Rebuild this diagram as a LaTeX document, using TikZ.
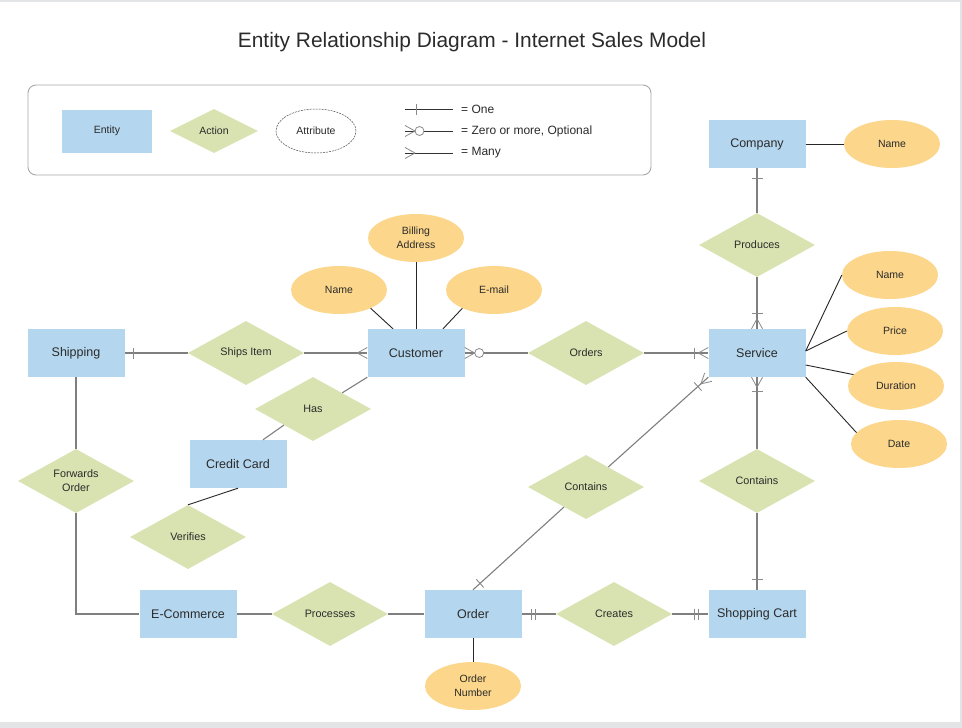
\documentclass[tikz,border=0pt]{standalone}
\usepackage{fontspec}
\setmainfont{Liberation Sans}
\usetikzlibrary{shapes.geometric,decorations.markings,calc}
\definecolor{entblue}{HTML}{B4D6EE}
\definecolor{actgreen}{HTML}{D9E2B1}
\definecolor{attorange}{HTML}{FCD68A}
\definecolor{txt}{HTML}{2B2B2B}
\definecolor{relgray}{HTML}{7F7F7F}
\definecolor{markgray}{HTML}{8A8A8A}
\definecolor{pagegray}{HTML}{E3E4E6}
\definecolor{boxgray}{HTML}{A8A8A8}
\begin{document}
\begin{tikzpicture}[x=1pt,y=-1pt,
 entity/.style={rectangle,fill=entblue,minimum width=97pt,minimum height=48pt,inner sep=0pt,text=txt,font=\fontsize{12.5}{15}\selectfont},
 action/.style={diamond,fill=actgreen,minimum width=116pt,minimum height=64pt,inner sep=0pt,aspect=1.8,text=txt,font=\fontsize{10.8}{14}\selectfont,align=center},
 attrib/.style={ellipse,fill=attorange,minimum width=96pt,minimum height=48pt,inner sep=0pt,text=txt,font=\fontsize{10.5}{14}\selectfont,align=center},
 rel/.style={draw=relgray,line width=1.1pt},
 attl/.style={draw=black!85,line width=0.9pt},
 legtext/.style={anchor=west,inner sep=0pt,text=txt,font=\fontsize{12}{14}\selectfont},
 onemark/.style={postaction={decorate,decoration={markings,mark=at position -#1pt with {\draw[markgray,line width=0.9pt] (0,-5.5)--(0,5.5);}}}},
 manymark/.style={postaction={decorate,decoration={markings,mark=at position -0.01pt with {\draw[markgray,line width=0.8pt] (-10,0)--(0,5.5) (-10,0)--(0,-5.5);}}}},
 zeromark/.style={postaction={decorate,decoration={markings,mark=at position -0.01pt with {\draw[markgray,line width=0.8pt] (-10,0)--(0,5.5) (-10,0)--(0,-5.5); \draw[markgray,line width=0.8pt,fill=white] (-14.5,0) circle[radius=4.5pt];}}}}
]
% page
\fill[pagegray] (0,0) rectangle (962,728);
\fill[white] (0,1.5) rectangle (960,722);
\useasboundingbox (0,0) rectangle (962,728);

% title
\node[text=txt,font=\fontsize{20.9}{24}\selectfont] (title) at (472,42) {Entity Relationship Diagram - Internet Sales Model};

% legend
\draw[boxgray,line width=0.9pt,rounded corners=8pt] (28,85) rectangle (651,175);
\node[entity,minimum width=90pt,minimum height=43pt,font=\fontsize{10.5}{13}\selectfont] (lent) at (107,131) {Entity};
\node[action,minimum width=88pt,minimum height=44pt,font=\fontsize{10.5}{13}\selectfont] (lact) at (214,131) {Action};
\node[ellipse,draw=black!70,dashed,dash pattern=on 2pt off 1pt,line width=0.5pt,minimum width=80pt,minimum height=44pt,inner sep=0pt,text=txt,font=\fontsize{10.5}{13}\selectfont] (latt) at (316,131) {Attribute};
\coordinate (l1a) at (405,109); \coordinate (l1b) at (453,109);
\coordinate (l2a) at (405,131); \coordinate (l2b) at (453,131);
\coordinate (l3a) at (405,153); \coordinate (l3b) at (453,153);
\draw[black!80,line width=0.8pt,onemark=11] (l1b) -- (l1a);
\draw[black!80,line width=0.8pt,zeromark] (l2b) -- (l2a);
\draw[black!80,line width=0.8pt,manymark] (l3b) -- (l3a);
\node[legtext] (lt1) at (461,109) {= One};
\node[legtext] (lt2) at (461,131) {= Zero or more, Optional};
\node[legtext] (lt3) at (461,153) {= Many};

% entities
\node[entity] (company) at (757,144) {Company};
\node[entity] (shipping) at (76,353) {Shipping};
\node[entity] (customer) at (416,353) {Customer};
\node[entity] (service) at (757,353) {Service};
\node[entity] (creditcard) at (238,464) {Credit Card};
\node[entity] (ecommerce) at (188,614) {E-Commerce};
\node[entity] (order) at (473,614) {Order};
\node[entity] (cart) at (757,614) {Shopping Cart};

% actions
\node[action] (produces) at (757,245) {Produces};
\node[action] (shipsitem) at (246,353) {Ships Item};
\node[action] (has) at (313,409) {Has};
\node[action] (orders) at (586,353) {Orders};
\node[action] (forwards) at (76,481) {Forwards\\Order};
\node[action] (verifies) at (188,537) {Verifies};
\node[action] (contmid) at (586,487) {Contains};
\node[action] (contright) at (757,481) {Contains};
\node[action] (processes) at (330,614) {Processes};
\node[action] (creates) at (614,614) {Creates};

% attributes
\node[attrib] (compname) at (892,144) {Name};
\node[attrib] (billing) at (416,238) {Billing\\Address};
\node[attrib] (custname) at (339,290) {Name};
\node[attrib] (email) at (494,290) {E-mail};
\node[attrib] (servname) at (890,275) {Name};
\node[attrib] (price) at (895,331) {Price};
\node[attrib] (duration) at (896,386) {Duration};
\node[attrib] (date) at (899,444) {Date};
\node[attrib] (ordnum) at (473,686) {Order\\Number};

% attribute connectors
\draw[attl] (company.east) -- (compname.west);
\draw[attl] (billing.south) -- (customer.north);
\draw[attl] (custname.-30) -- ($(customer.north)+(-23,0)$);
\draw[attl] (email.-150) -- ($(customer.north)+(27,0)$);
\draw[attl] ($(service.east)+(0,-2)$) -- (servname.west);
\draw[attl] ($(service.east)+(0,-2)$) -- (price.west);
\draw[attl] ($(service.east)+(0,12)$) -- (duration.165);
\draw[attl] (service.south east) -- (date.165);
\draw[attl] (order.south) -- (ordnum.north);

% relationship connectors
\draw[rel,onemark=10] (produces) -- (company);
\draw[rel,onemark=15,manymark] (produces) -- (service);
\draw[rel,onemark=9] (shipsitem) -- (shipping);
\draw[rel,manymark] (shipsitem) -- (customer);
\draw[rel,zeromark] (orders) -- (customer);
\draw[rel,onemark=14,manymark] (orders) -- (service);
\draw[rel] (has.north east) -- (customer.south west);
\draw[rel] (has.south west) -- ($(creditcard.north)+(25,0)$);
\draw[attl] (creditcard.south) -- (verifies.north);
\draw[rel] (shipping) -- (forwards);
\draw[rel] (forwards.south) |- (ecommerce.west);
\draw[rel] (processes) -- (ecommerce);
\draw[rel] (processes) -- (order);
\draw[rel,onemark=10,onemark=14] (creates) -- (order);
\draw[rel,onemark=10,onemark=14] (creates) -- (cart);
\draw[rel,onemark=10] (contright) -- (cart);
\draw[rel,onemark=14,manymark] (contright) -- (service);
\draw[rel,onemark=9] (contmid) -- (order.north);
\draw[rel,onemark=14,manymark] (contmid) -- (service.south west);
\end{tikzpicture}
\end{document}
